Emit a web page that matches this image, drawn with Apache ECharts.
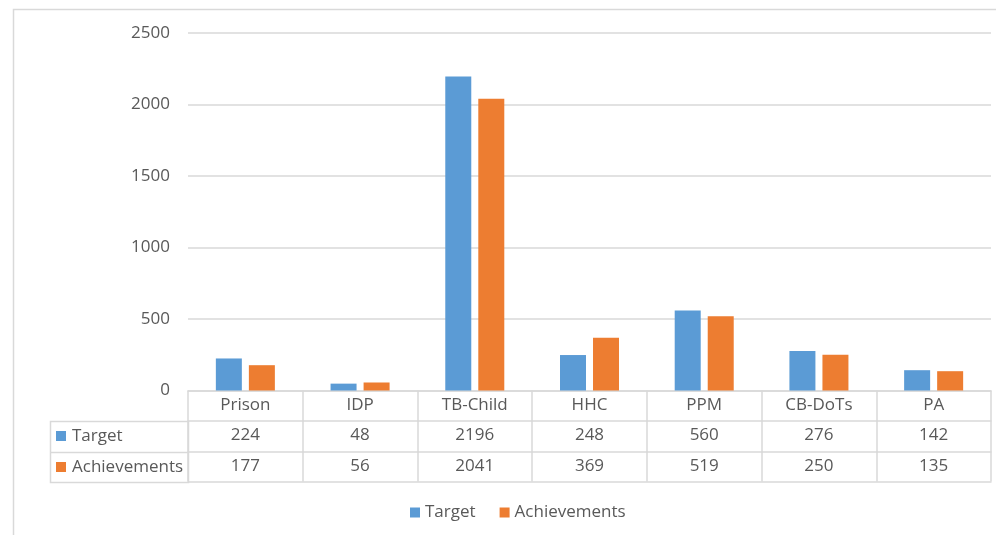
<!DOCTYPE html>
<html>
<head>
<meta charset="utf-8">
<script src="https://cdn.jsdelivr.net/npm/echarts@6/dist/echarts.min.js"></script>
<style>
  html, body { margin: 0; padding: 0; background: #fff; }
  #chart { width: 996px; height: 535px; }
</style>
</head>
<body>
<div id="chart"></div>
<script>
// data
var categories = ['Prison', 'IDP', 'TB-Child', 'HHC', 'PPM', 'CB-DoTs', 'PA'];
var seriesNames = ['Target', 'Achievements'];
var targetValues = [224, 48, 2196, 248, 560, 276, 142];
var achievementValues = [177, 56, 2041, 369, 519, 250, 135];
var yTicks = [0, 500, 1000, 1500, 2000, 2500];

var colors = ['#5B9BD5', '#ED7D31'];
var textColor = '#595959';
var lineColor = '#D9D9D9';
var font = '"Open Sans", "Noto Sans", sans-serif';
var fs = 17;

var myChart = echarts.init(document.getElementById('chart'));

// one extra x axis per table row, stacked under the plot
function rowAxis(values, offset, showLabel) {
    return {
        type: 'category',
        position: 'bottom',
        offset: offset,
        data: values.map(String),
        axisLine: { show: true, lineStyle: { color: lineColor, width: 1.5 } },
        axisTick: { show: false },
        axisLabel: {
            show: showLabel,
            color: textColor,
            fontSize: fs,
            fontFamily: font,
            verticalAlign: 'middle',
            margin: 15,
            interval: 0
        }
    };
}

var rowTop = [421, 452]; // y of table rows (Target, Achievements)
var graphics = [
    // outer chart border
    { type: 'rect', shape: { x: 13.5, y: 9.5, width: 1000, height: 600 },
      style: { fill: null, stroke: lineColor, lineWidth: 1.5 }, silent: true },
    // row header cells
    { type: 'rect', shape: { x: 50.5, y: 421.5, width: 138, height: 61 },
      style: { fill: null, stroke: lineColor, lineWidth: 1.5 }, silent: true },
    { type: 'line', shape: { x1: 50.5, y1: 452.5, x2: 188, y2: 452.5 },
      style: { stroke: lineColor, lineWidth: 1.5 }, silent: true }
];
seriesNames.forEach(function (name, i) {
    graphics.push({ type: 'rect', shape: { x: 56, y: rowTop[i] + 10, width: 10, height: 10 },
                    style: { fill: colors[i] }, silent: true });
    graphics.push({ type: 'text', x: 72, y: rowTop[i] + 15.5,
                    style: { text: name, fill: textColor, fontSize: fs, fontFamily: font,
                             verticalAlign: 'middle' }, silent: true });
});

myChart.setOption({
    color: colors,
    animation: false,
    grid: { left: 188, right: 5, top: 33, bottom: 144.5, containLabel: false },
    legend: {
        data: seriesNames,
        bottom: 9,
        left: 405,
        itemWidth: 10,
        itemHeight: 10,
        itemGap: 24,
        icon: 'rect',
        textStyle: { color: textColor, fontSize: fs, fontFamily: font }
    },
    xAxis: [
        {
            type: 'category',
            data: categories,
            axisLine: { show: true, lineStyle: { color: lineColor, width: 1.5 } },
            axisTick: { show: true, length: 91, lineStyle: { color: lineColor, width: 1.5 } },
            axisLabel: {
                color: textColor, fontSize: fs, fontFamily: font,
                verticalAlign: 'middle', margin: 15, interval: 0
            }
        },
        rowAxis(targetValues, 30, true),
        rowAxis(achievementValues, 61, true),
        rowAxis(categories, 91, false)
    ],
    yAxis: {
        type: 'value',
        min: 0,
        max: 2500,
        interval: 500,
        axisLine: { show: false },
        axisTick: { show: false },
        axisLabel: {
            color: textColor, fontSize: fs, fontFamily: font, margin: 18,
            formatter: function (v) { return yTicks.indexOf(v) >= 0 ? String(v) : ''; }
        },
        splitLine: { lineStyle: { color: lineColor, width: 1.5 } }
    },
    series: [
        { name: seriesNames[0], type: 'bar', data: targetValues, barWidth: 26, barGap: '27%' },
        { name: seriesNames[1], type: 'bar', data: achievementValues, barWidth: 26, barGap: '27%' }
    ],
    graphic: graphics
});
</script>
</body>
</html>
